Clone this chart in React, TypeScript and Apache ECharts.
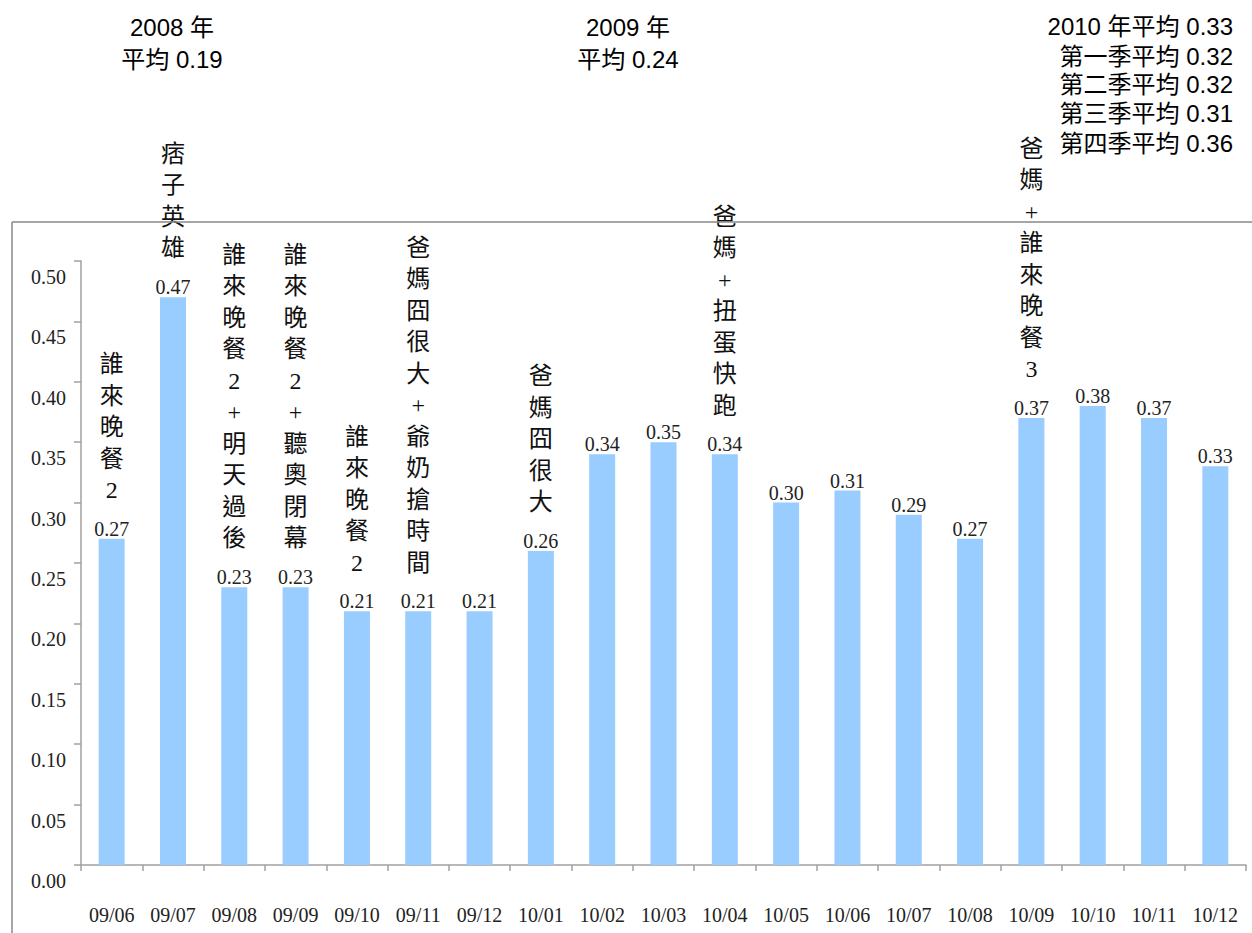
import React, { useEffect, useRef } from "react";
import * as echarts from "echarts";

const categories = ["09/06", "09/07", "09/08", "09/09", "09/10", "09/11", "09/12", "10/01", "10/02", "10/03", "10/04", "10/05", "10/06", "10/07", "10/08", "10/09", "10/10", "10/11", "10/12"];
const values = [0.27, 0.47, 0.23, 0.23, 0.21, 0.21, 0.21, 0.26, 0.34, 0.35, 0.34, 0.30, 0.31, 0.29, 0.27, 0.37, 0.38, 0.37, 0.33];
const annotations = [
  "誰來晚餐2",
  "痞子英雄",
  "誰來晚餐2+明天過後",
  "誰來晚餐2+聽奧閉幕",
  "誰來晚餐2",
  "爸媽囧很大+爺奶搶時間",
  "",
  "爸媽囧很大",
  "",
  "",
  "爸媽+扭蛋快跑",
  "",
  "",
  "",
  "",
  "爸媽+誰來晚餐3",
  "",
  "",
  "",
];
const yTicks = { min: 0, max: 0.5, interval: 0.05 };
const block2008 = ["2008 年", "平均 0.19"];
const block2009 = ["2009 年", "平均 0.24"];
const block2010 = ["2010 年平均 0.33", "第一季平均 0.32", "第二季平均 0.32", "第三季平均 0.31", "第四季平均 0.36"];

const SERIF = "'Liberation Serif', 'Noto Sans CJK TC', serif";
const SANS = "'Liberation Sans', Arial, 'Noto Sans CJK TC', sans-serif";

export default function App() {
  const ref = useRef<HTMLDivElement>(null);
  useEffect(() => {
    if (!ref.current) return;
    const chart = echarts.init(ref.current, undefined, { renderer: "svg" });
    const sansText = (text: string, x: number, y: number, align: string) => ({
      type: "text",
      x,
      y,
      style: {
        text,
        fill: "#000",
        font: `24px ${SANS}`,
        align,
        verticalAlign: "middle",
      },
    });
    const rightYs = [26, 56, 84, 113, 143];
    const graphics: any[] = [
      { type: "line", shape: { x1: 12, y1: 222, x2: 1252, y2: 222 }, style: { stroke: "#888", lineWidth: 1.5 }, z: 10 },
      { type: "line", shape: { x1: 12, y1: 222, x2: 12, y2: 933 }, style: { stroke: "#888", lineWidth: 1.5 }, z: 10 },
      sansText(block2008[0], 172, 27, "center"),
      sansText(block2008[1], 172, 59, "center"),
      sansText(block2009[0], 628, 27, "center"),
      sansText(block2009[1], 628, 59, "center"),
      ...block2010.map((t, i) => sansText(t, 1233, rightYs[i], "right")),
    ];
    chart.setOption({
      animation: false,
      grid: { left: 81, right: 6, top: 261, bottom: 68, containLabel: false },
      xAxis: {
        type: "category",
        data: categories,
        axisLine: { show: true, lineStyle: { color: "#a0a0a0", width: 1.5 } },
        axisTick: { show: true, interval: 0, length: 6, lineStyle: { color: "#a0a0a0", width: 1.5 } },
        axisLabel: {
          interval: 0,
          margin: 39,
          color: "#222",
          fontFamily: SERIF,
          fontSize: 20,
          lineHeight: 22,
        },
      },
      yAxis: {
        type: "value",
        min: yTicks.min,
        max: yTicks.max,
        interval: yTicks.interval,
        axisLine: { show: true, lineStyle: { color: "#a0a0a0", width: 1.5 } },
        axisTick: { show: true, length: 7, lineStyle: { color: "#a0a0a0", width: 1.5 } },
        splitLine: { show: false },
        axisLabel: {
          margin: 15,
          color: "#222",
          fontFamily: SERIF,
          fontSize: 20,
          verticalAlign: "top",
          lineHeight: 32,
          formatter: (v: number) => v.toFixed(2),
        },
      },
      series: [
        {
          type: "bar",
          data: values,
          barWidth: 26,
          itemStyle: { color: "#99CCFF" },
          label: {
            show: true,
            position: "top",
            distance: -1,
            align: "center",
            formatter: (p: any) => {
              const ann = annotations[p.dataIndex];
              const num = `{v|${values[p.dataIndex].toFixed(2)}}`;
              if (!ann) return num;
              const chars = Array.from(ann).map((c) => `{a|${c}}`).join("\n");
              return `${chars}\n{s| }\n${num}`;
            },
            rich: {
              a: { fontFamily: SERIF, fontSize: 24, lineHeight: 31.5, color: "#111", align: "center" },
              s: { fontSize: 8, lineHeight: 12 },
              v: { fontFamily: SERIF, fontSize: 20, lineHeight: 22, color: "#222", align: "center" },
            },
          },
        },
      ],
      graphic: graphics,
    });
    return () => chart.dispose();
  }, []);
  return <div ref={ref} style={{ position: "fixed", left: 0, top: 0, width: 1252, height: 933, background: "#fff" }} />;
}
